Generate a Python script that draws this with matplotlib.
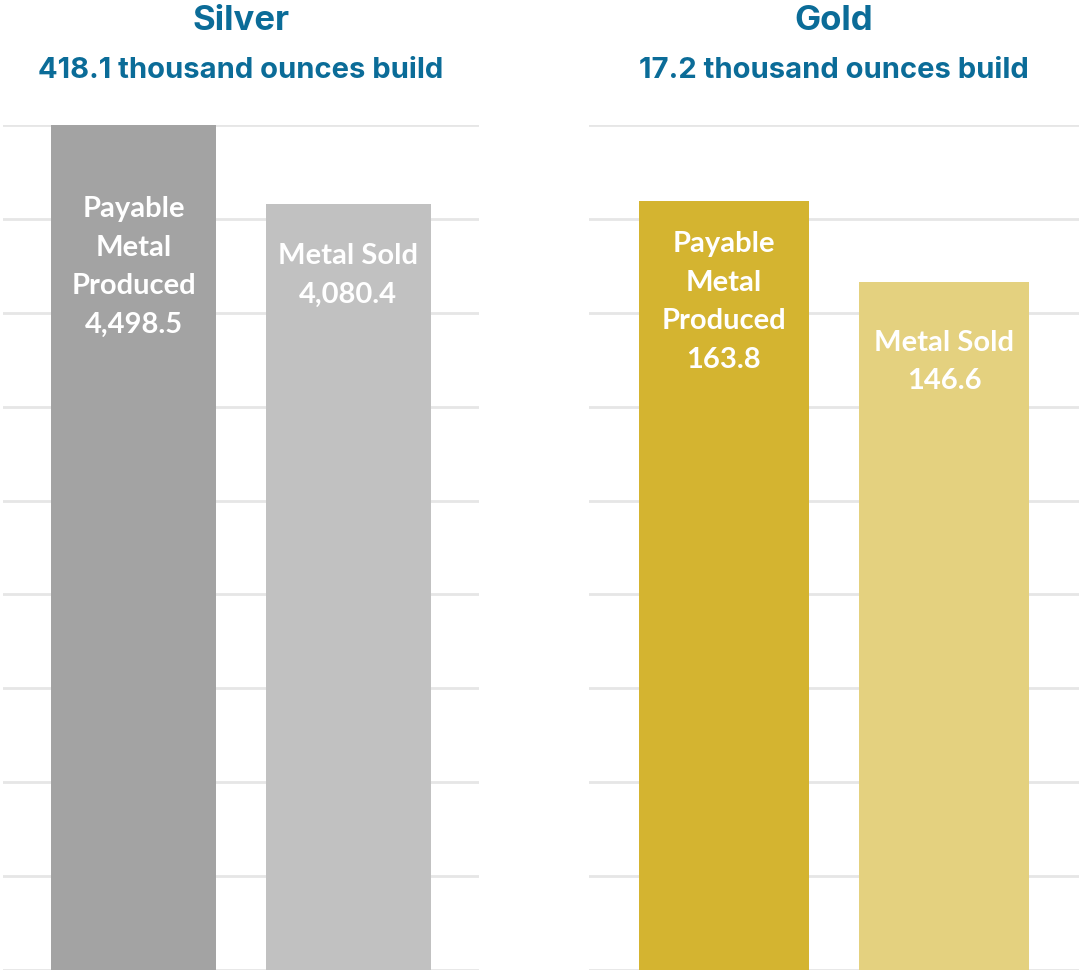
import matplotlib.pyplot as plt

# values (thousand ounces)
categories = ["Payable\nMetal\nProduced", "Metal Sold"]
silver = [4498.5, 4080.4]
gold = [163.8, 146.6]
silver_title = "Silver"
silver_sub = "418.1 thousand ounces build"
gold_title = "Gold"
gold_sub = "17.2 thousand ounces build"

silver_colors = ["#a3a3a3", "#c1c1c1"]
gold_colors = ["#d4b430", "#e4d17f"]
title_color = "#0b6c98"

fig = plt.figure(figsize=(10.79, 9.72), dpi=100)
W, H = 1079.0, 972.0


def panel(rect, vals, colors, ymax, step, title, sub, offsets):
    ax = fig.add_axes(rect)
    x = list(range(len(vals)))
    ax.bar(x, vals, width=0.77, color=colors, zorder=2)
    ax.set_xlim(-0.61, 1.61)
    ax.set_ylim(0, ymax)
    ax.set_yticks([i * step for i in range(int(ymax / step) + 1)])
    ax.grid(axis="y", color="#e6e6e6", lw=2, zorder=0)
    ax.tick_params(left=False, bottom=False, labelleft=False, labelbottom=False)
    for s in ax.spines.values():
        s.set_visible(False)
    for i, v in enumerate(vals):
        lab = categories[i] + "\n" + f"{v:,.1f}"
        ax.annotate(lab, (x[i], v), xytext=(0, -offsets[i]), textcoords="offset pixels",
                    ha="center", va="top", color="white", fontsize=21,
                    fontweight="bold", family="Lato", linespacing=1.6)
    cx = rect[0] + rect[2] / 2
    fig.text(cx, 1 - 21 / H, title, ha="center", va="center", color=title_color,
             fontsize=25, fontweight="bold", family="Inter")
    fig.text(cx, 1 - 71 / H, sub, ha="center", va="center", color=title_color,
             fontsize=21, fontweight="bold", family="Inter")
    return ax


panel([3 / W, 2 / H, 476 / W, 845 / H], silver, silver_colors, 4500, 500,
      silver_title, silver_sub, [71, 39])
panel([589 / W, 2 / H, 490 / W, 845 / H], gold, gold_colors, 180, 20,
      gold_title, gold_sub, [30, 48])

fig.savefig("out.png", dpi=100)
